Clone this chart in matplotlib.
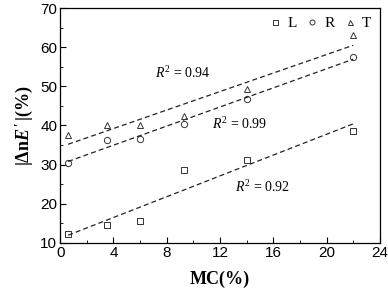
import matplotlib.pyplot as plt
import numpy as np
from matplotlib.ticker import MultipleLocator

# ── Data ──────────────────────────────────────────────────────────────────────
MC     = [0.6, 3.5, 6.0, 9.3, 14.0, 22.0]
L_VALS = [12.2, 14.6, 15.5, 28.6, 31.3, 38.5]
R_VALS = [30.5, 36.3, 36.5, 40.5, 46.8, 57.5]
T_VALS = [37.5, 40.0, 40.2, 42.5, 49.2, 63.0]

SERIES  = [('L', L_VALS, 's'), ('R', R_VALS, 'o'), ('T', T_VALS, '^')]
R2_TXT  = [('0.94', 9.2, 53.5), ('0.99', 13.5, 40.4), ('0.92', 15.2, 24.4)]

SERIF = 'Liberation Serif'
SANS  = 'Liberation Sans'
plt.rcParams['mathtext.fontset'] = 'custom'
plt.rcParams['mathtext.rm'] = SERIF
plt.rcParams['mathtext.it'] = SERIF + ':italic'
plt.rcParams['mathtext.bf'] = SERIF + ':bold'
plt.rcParams['mathtext.bfit'] = SERIF + ':italic:bold'

fig = plt.figure(figsize=(3.88, 2.97), dpi=100)
ax = fig.add_axes([0.155, 0.182, 0.824, 0.791])

x = np.array(MC)
for name, vals, mk in SERIES:
    ax.plot(x, vals, linestyle='none', marker=mk, ms=4.5, mfc='none',
            mec='#333333', mew=0.7, label=name)
    k, b = np.polyfit(x, vals, 1)
    ax.plot([x[0], x[-1]], [k * x[0] + b, k * x[-1] + b], ls=(0, (4, 2.5)),
            color='#222222', lw=0.9)

for val, tx, ty in R2_TXT:
    ax.text(tx, ty, rf'$R^2$ = {val}', ha='center', va='center',
            fontsize=10, family=SERIF)

ax.set_xlim(0, 24)
ax.set_ylim(10, 70)
ax.xaxis.set_major_locator(MultipleLocator(4))
ax.xaxis.set_minor_locator(MultipleLocator(2))
ax.yaxis.set_major_locator(MultipleLocator(10))
ax.yaxis.set_minor_locator(MultipleLocator(5))
ax.tick_params(which='both', direction='in', top=False, right=False,
               labelsize=11, pad=2)
ax.tick_params(which='major', length=4)
ax.tick_params(which='minor', length=2.5)
for lab in ax.get_xticklabels() + ax.get_yticklabels():
    lab.set_family(SANS)
for sp in ax.spines.values():
    sp.set_linewidth(0.9)

ax.set_xlabel('MC(%)', fontsize=13, fontweight='bold', family=SERIF, labelpad=8)
ax.set_ylabel(r"$\mathbf{|\Delta n}\mathbfit{E}\,\mathbf{'\,|}$(%)", fontsize=13,
              fontweight='bold', family=SERIF, labelpad=4)

leg = ax.legend(loc='upper right', ncol=3, frameon=False,
                prop={'family': SERIF, 'size': 11}, handlelength=0.6,
                markerscale=0.8, handletextpad=0.5, columnspacing=0.7,
                borderaxespad=0.15)

fig.savefig('out.png', dpi=100)
